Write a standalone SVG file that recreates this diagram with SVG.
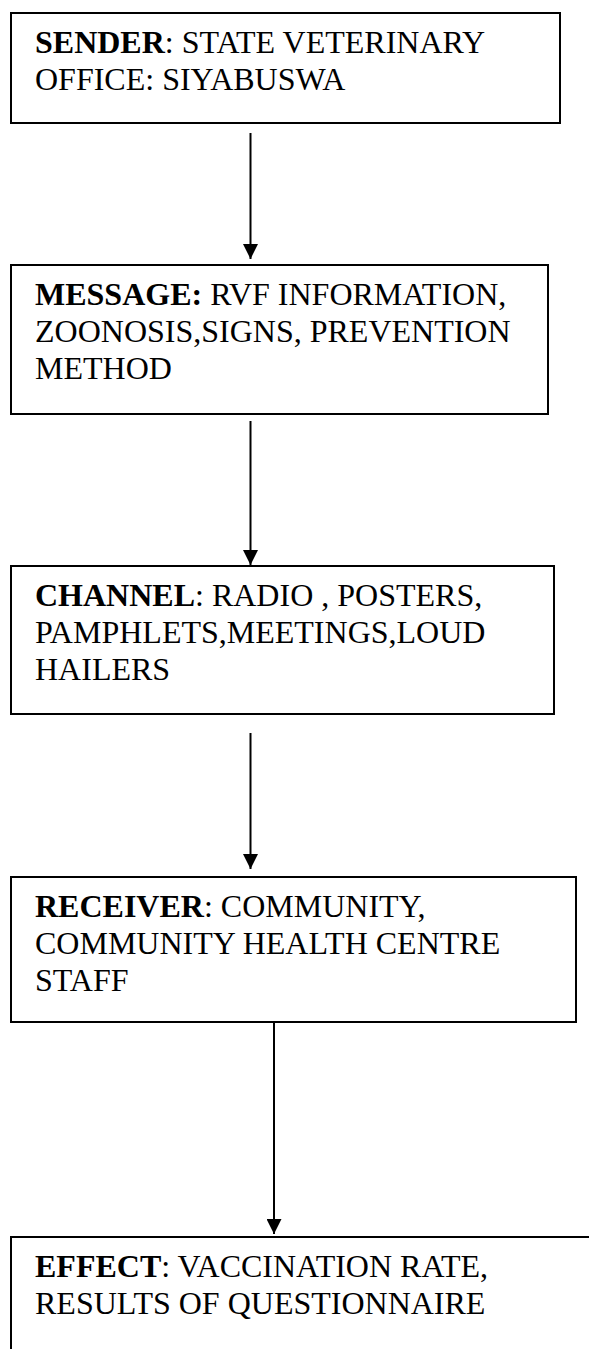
<svg xmlns="http://www.w3.org/2000/svg" width="589" height="1349" viewBox="0 0 589 1349">
  <style>
    .box { fill: #ffffff; stroke: #000000; stroke-width: 2; }
    .edge { stroke: #000000; stroke-width: 2; fill: none; marker-end: url(#arrow); }
    text { font-family: "Liberation Serif", "Times New Roman", serif; font-size: 32px; fill: #000000; }
    .b { font-weight: bold; }
  </style>
  <defs>
    <marker id="arrow" viewBox="0 0 15 15" refX="15" refY="7.5" markerWidth="15" markerHeight="15" markerUnits="userSpaceOnUse" orient="auto">
      <path d="M0,0 L15,7.5 L0,15 Z" fill="#000000"/>
    </marker>
  </defs>
  <rect width="589" height="1349" fill="#ffffff"/>

  <g id="connectors">
    <line class="edge" x1="250.5" y1="133" x2="250.5" y2="259"/>
    <line class="edge" x1="250.5" y1="421" x2="250.5" y2="565"/>
    <line class="edge" x1="250.5" y1="733" x2="250.5" y2="869"/>
    <line class="edge" x1="274" y1="1022" x2="274" y2="1234"/>
  </g>

  <g id="sender">
    <rect class="box" x="11" y="13" width="549" height="110"/>
    <text x="35" y="53"><tspan class="b">SENDER</tspan>: STATE VETERINARY</text>
    <text x="35" y="90">OFFICE: SIYABUSWA</text>
  </g>

  <g id="message">
    <rect class="box" x="11" y="265" width="537" height="149"/>
    <text x="35" y="305"><tspan class="b">MESSAGE:</tspan> RVF INFORMATION,</text>
    <text x="35" y="342">ZOONOSIS,SIGNS, PREVENTION</text>
    <text x="35" y="379">METHOD</text>
  </g>

  <g id="channel">
    <rect class="box" x="11" y="566" width="543" height="148"/>
    <text x="35" y="606"><tspan class="b">CHANNEL</tspan>: RADIO , POSTERS,</text>
    <text x="35" y="643">PAMPHLETS,MEETINGS,LOUD</text>
    <text x="35" y="680">HAILERS</text>
  </g>

  <g id="receiver">
    <rect class="box" x="11" y="877" width="565" height="145"/>
    <text x="35" y="917"><tspan class="b">RECEIVER</tspan>: COMMUNITY,</text>
    <text x="35" y="954">COMMUNITY HEALTH CENTRE</text>
    <text x="35" y="991">STAFF</text>
  </g>

  <g id="effect">
    <rect class="box" x="11" y="1237" width="600" height="140"/>
    <text x="35" y="1277"><tspan class="b">EFFECT</tspan>: VACCINATION RATE,</text>
    <text x="35" y="1314">RESULTS OF QUESTIONNAIRE</text>
  </g>
</svg>
